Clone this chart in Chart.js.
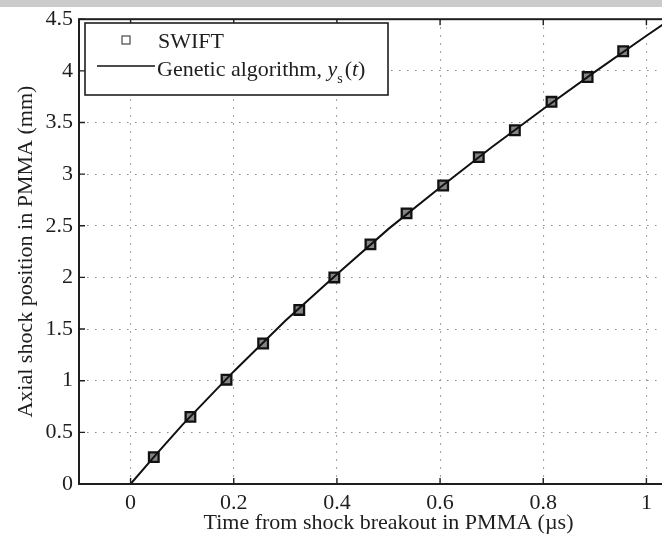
<!DOCTYPE html>
<html><head><meta charset="utf-8">
<script src="https://cdn.jsdelivr.net/npm/chart.js@4.4.1/dist/chart.umd.min.js"></script>
<style>
html,body{margin:0;padding:0;overflow:hidden;background:#fff;width:662px;height:536px}
#bar{position:absolute;left:0;top:0;width:662px;height:7px;background:#cbcbcb;z-index:2}
#c{position:absolute;left:0;top:0}
</style></head>
<body><div id="bar"></div><canvas id="c" width="720" height="536"></canvas>
<script>
// ---- data ----
const swiftTime = [0.045,0.116,0.186,0.257,0.327,0.395,0.465,0.535,0.606,0.675,0.745,0.816,0.886,0.955];
const swiftPos  = [0.26,0.65,1.01,1.36,1.685,2.00,2.32,2.62,2.89,3.165,3.425,3.70,3.94,4.19];
const gaTime = [0,0.05,0.1,0.2,0.3,0.4,0.5,0.6,0.7,0.8,0.9,1.0,1.1];
const gaPos  = [0,0.29,0.57,1.09,1.58,2.03,2.47,2.87,3.26,3.63,3.99,4.34,4.68];
const xTicks = [0,0.2,0.4,0.6,0.8,1];
const yTicks = [0,0.5,1,1.5,2,2.5,3,3.5,4,4.5];
const seriesNames = ['SWIFT','Genetic algorithm, '];
const xTitle = 'Time from shock breakout in PMMA (µs)';
const yTitle = 'Axial shock position in PMMA (mm)';

const FONT = '"Liberation Serif", "DejaVu Serif", serif';
const INK = '#1e1e1e';

const framePlugin = {
  id: 'frameLegend',
  afterDraw(chart) {
    const {ctx, chartArea: a, scales: {x, y}} = chart;
    ctx.save();
    // frame
    ctx.strokeStyle = INK; ctx.lineWidth = 2;
    ctx.strokeRect(a.left, a.top, a.right - a.left, a.bottom - a.top);
    // inward ticks
    ctx.lineWidth = 1.4;
    ctx.beginPath();
    xTicks.forEach(v => {
      const px = x.getPixelForValue(v);
      ctx.moveTo(px, a.bottom); ctx.lineTo(px, a.bottom - 6);
      ctx.moveTo(px, a.top); ctx.lineTo(px, a.top + 6);
    });
    yTicks.forEach(v => {
      const py = y.getPixelForValue(v);
      ctx.moveTo(a.left, py); ctx.lineTo(a.left + 6, py);
      ctx.moveTo(a.right, py); ctx.lineTo(a.right - 6, py);
    });
    ctx.stroke();
    // legend box
    const bx = 85, by = 23, bw = 303, bh = 72;
    ctx.fillStyle = '#fff'; ctx.fillRect(bx, by, bw, bh);
    ctx.strokeStyle = INK; ctx.lineWidth = 1.6; ctx.strokeRect(bx, by, bw, bh);
    // marker sample
    ctx.strokeStyle = '#555'; ctx.lineWidth = 1.3; ctx.strokeRect(122, 36, 8, 8);
    ctx.fillStyle = INK; ctx.textBaseline = 'alphabetic'; ctx.textAlign = 'left';
    ctx.font = '22px ' + FONT;
    ctx.fillText(seriesNames[0], 158, 48);
    // line sample
    ctx.strokeStyle = '#111'; ctx.lineWidth = 1.6;
    ctx.beginPath(); ctx.moveTo(97, 66); ctx.lineTo(155, 66); ctx.stroke();
    let tx = 157; const base = 76;
    const put = (t, f, dy) => { ctx.font = f; ctx.fillText(t, tx, base + (dy||0)); tx += ctx.measureText(t).width; };
    put(seriesNames[1], '22px ' + FONT);
    put('y', 'italic 22px ' + FONT);
    put('s', '14px ' + FONT, 7);
    tx += 2;
    put('(', '22px ' + FONT);
    put('t', 'italic 22px ' + FONT);
    put(')', '22px ' + FONT);
    ctx.restore();
  }
};

new Chart(document.getElementById('c'), {
  type: 'scatter',
  data: {
    datasets: [
      {
        label: seriesNames[1],
        data: gaTime.map((t, i) => ({x: t, y: gaPos[i]})),
        showLine: true, borderColor: '#111', borderWidth: 2,
        pointRadius: 0, tension: 0, order: 0
      },
      {
        label: seriesNames[0],
        data: swiftTime.map((t, i) => ({x: t, y: swiftPos[i]})),
        pointStyle: 'rect', pointRadius: 6.8, borderWidth: 2.3,
        borderColor: '#111', backgroundColor: '#858585', order: 1
      }
    ]
  },
  options: {
    responsive: false, animation: false, devicePixelRatio: 1,
    layout: {autoPadding: false, padding: {top: 17, right: 22, left: 0, bottom: 0}},
    plugins: {legend: {display: false}, tooltip: {enabled: false}},
    scales: {
      x: {
        type: 'linear', min: -0.1, max: 1.1,
        afterBuildTicks: s => { s.ticks = xTicks.map(v => ({value: v})); },
        afterFit: s => { s.height = 52; },
        grid: {color: '#8a8a8a', lineWidth: 1.1, drawTicks: false},
        border: {display: false, dash: [1.5, 6.5]},
        ticks: {padding: 6, color: INK, font: {family: FONT, size: 22}, callback: v => String(v)},
        title: {display: true, text: xTitle, color: INK, font: {family: FONT, size: 22}, padding: {top: 0, bottom: 0}}
      },
      y: {
        type: 'linear', min: 0, max: 4.5,
        afterBuildTicks: s => { s.ticks = yTicks.map(v => ({value: v})); },
        afterFit: s => { s.width = 79; },
        grid: {color: '#8a8a8a', lineWidth: 1.1, drawTicks: false},
        border: {display: false, dash: [1.5, 6.5]},
        ticks: {padding: 6, color: INK, font: {family: FONT, size: 22}, callback: v => String(v)},
        title: {display: true, text: yTitle, color: INK, font: {family: FONT, size: 22}, padding: {top: 13, bottom: 0}}
      }
    }
  },
  plugins: [framePlugin]
});
</script>
</body></html>
